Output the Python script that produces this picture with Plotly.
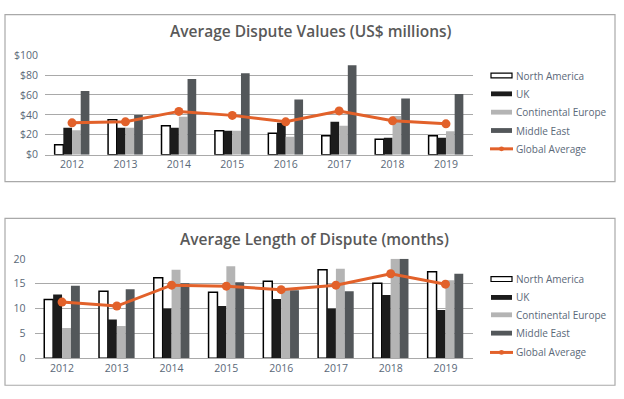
import plotly.graph_objects as go

W, H = 624, 399

years = ["2012", "2013", "2014", "2015", "2016", "2017", "2018", "2019"]
series_names = ["North America", "UK", "Continental Europe", "Middle East", "Global Average"]

# Average dispute values (US$ millions)
na_value = [10, 35, 29, 24, 21.5, 19, 15.5, 19]
uk_value = [27, 27, 27, 24, 32, 33, 17, 17]
ce_value = [24.5, 27, 38, 24, 18, 29, 39, 23.5]
me_value = [64, 40, 76, 82, 55.5, 90, 56.5, 61]
ga_value = [32, 33, 43.5, 39.5, 33, 44, 34, 31]

# Average length of dispute (months)
na_len = [11.8, 13.5, 16.2, 13.3, 15.5, 17.8, 15.1, 17.4]
uk_len = [12.8, 7.8, 10, 10.5, 11.9, 10, 12.7, 9.7]
ce_len = [6.1, 6.5, 17.8, 18.5, 13.7, 18, 20, 15.7]
me_len = [14.6, 13.9, 15.1, 15.3, 13.7, 13.5, 20, 17]
ga_len = [11.3, 10.5, 14.7, 14.5, 13.8, 14.7, 17, 14.9]

fills = ["#ffffff", "#1c1c1c", "#b4b4b4", "#53575a"]
outlines = ["#000000", "#1c1c1c", "#b4b4b4", "#53575a"]
orange = "#e2612a"
grid = "#a9a9a9"
tickc = "#5a6878"
titlec = "#595959"
FONT = "Open Sans"

fig = go.Figure()

def add_chart(vals, ga, xa, ya):
    for i, v in enumerate(vals):
        fig.add_trace(go.Bar(
            x=years, y=v, name=series_names[i], xaxis=xa, yaxis=ya,
            marker=dict(color=fills[i],
                        line=dict(color=outlines[i], width=1.5 if i == 0 else 0)),
            showlegend=False))
    fig.add_trace(go.Scatter(
        x=years, y=ga, name=series_names[4], xaxis=xa, yaxis=ya,
        mode="lines+markers", line=dict(color=orange, width=3),
        marker=dict(color=orange, size=9), showlegend=False))

add_chart([na_value, uk_value, ce_value, me_value], ga_value, "x", "y")
add_chart([na_len, uk_len, ce_len, me_len], ga_len, "x2", "y2")

def px(x): return x / W
def py(y): return 1 - y / H

axis_font = dict(family=FONT, size=10.5, color=tickc)

fig.update_layout(
    width=W, height=H, margin=dict(l=0, r=0, t=0, b=0),
    paper_bgcolor="white", plot_bgcolor="white",
    barmode="group", bargap=0.35, bargroupgap=0,
    font=dict(family=FONT),
    xaxis=dict(domain=[px(45), px(473)], type="category", showline=True,
               linecolor=grid, linewidth=1, ticks="", tickfont=axis_font,
               showgrid=False, anchor="y"),
    yaxis=dict(domain=[py(153), py(50)], range=[0, 100], dtick=20,
               tickprefix="$", showgrid=True, gridcolor=grid, gridwidth=1,
               zeroline=False, showline=False, tickfont=axis_font,
               ticklabelstandoff=6, anchor="x"),
    xaxis2=dict(domain=[px(34.5), px(473)], type="category", showline=True,
                linecolor=grid, linewidth=1, ticks="", tickfont=axis_font,
                showgrid=False, anchor="y2"),
    yaxis2=dict(domain=[py(364), py(261)], range=[0, 20], dtick=5,
                showgrid=True, gridcolor=grid, gridwidth=1,
                zeroline=False, showline=False, tickfont=axis_font,
                ticklabelstandoff=8, anchor="x2"),
)

shapes = []
annotations = []

# Panel borders
for (y0, y1) in [(8, 181), (219, 392)]:
    shapes.append(dict(type="rect", xref="paper", yref="paper",
                       x0=px(5), x1=px(615), y0=py(y1), y1=py(y0),
                       line=dict(color=grid, width=1.2), fillcolor="rgba(0,0,0,0)",
                       layer="below"))

# Titles
for text, xc, yc in [("Average Dispute Values (US$ millions)", 311, 25),
                     ("Average Length of Dispute (months)", 314, 240)]:
    annotations.append(dict(text=text, xref="paper", yref="paper",
                            x=px(xc), y=py(yc), xanchor="center", yanchor="middle",
                            showarrow=False,
                            font=dict(family=FONT, size=15.5, color=titlec, weight=600)))

# Manual legends
def legend(ys):
    for i, name in enumerate(series_names):
        yc = ys[i]
        if i < 4:
            shapes.append(dict(type="rect", xref="paper", yref="paper",
                               x0=px(491), x1=px(512), y0=py(yc + 2.5), y1=py(yc - 2.5),
                               fillcolor=fills[i],
                               line=dict(color=outlines[i], width=1.2 if i == 0 else 0)))
        else:
            shapes.append(dict(type="line", xref="paper", yref="paper",
                               x0=px(490), x1=px(513), y0=py(yc), y1=py(yc),
                               line=dict(color=orange, width=3)))
            shapes.append(dict(type="circle", xref="paper", yref="paper",
                               x0=px(499), x1=px(504), y0=py(yc + 2.5), y1=py(yc - 2.5),
                               fillcolor=orange, line=dict(color=orange, width=0)))
        annotations.append(dict(text=name, xref="paper", yref="paper",
                                x=px(514), y=py(yc), xanchor="left", yanchor="middle",
                                showarrow=False,
                                font=dict(family=FONT, size=10, color=tickc)))

legend([71, 90, 109, 128, 147])
legend([282, 301, 319, 338, 358])

fig.update_layout(shapes=shapes, annotations=annotations)

fig.write_html(
    "out.html",
    config={"displayModeBar": False},
    post_script="document.body.style.margin='0';document.body.style.padding='0';"
                "document.documentElement.style.overflow='hidden';",
)
